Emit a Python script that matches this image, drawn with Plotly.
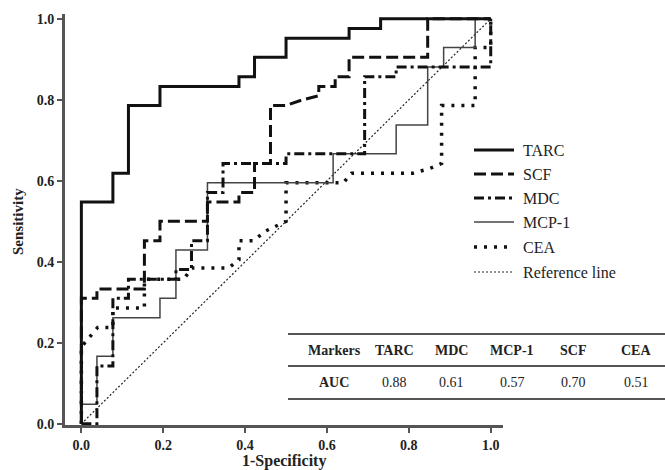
import plotly.graph_objects as go

# ---------------- data ----------------
tarc_x = [0, 0, 0.077, 0.077, 0.115, 0.115, 0.192, 0.192, 0.385, 0.385, 0.423, 0.423, 0.5, 0.5, 0.654, 0.654, 0.731, 0.731, 1.0]
tarc_y = [0, 0.548, 0.548, 0.619, 0.619, 0.786, 0.786, 0.833, 0.833, 0.857, 0.857, 0.905, 0.905, 0.952, 0.952, 0.976, 0.976, 1.0, 1.0]

scf_x = [0, 0, 0.038, 0.038, 0.154, 0.154, 0.192, 0.192, 0.308, 0.308, 0.385, 0.385, 0.423, 0.423, 0.462, 0.462,
         0.5, 0.54, 0.58, 0.58, 0.62, 0.62, 0.654, 0.654, 0.846, 0.846, 1.0]
scf_y = [0, 0.31, 0.31, 0.333, 0.333, 0.452, 0.452, 0.5, 0.5, 0.548, 0.548, 0.571, 0.571, 0.643, 0.643, 0.786,
         0.786, 0.80, 0.81, 0.833, 0.833, 0.857, 0.857, 0.905, 0.905, 1.0, 1.0]

mdc_x = [0, 0.038, 0.038, 0.077, 0.077, 0.115, 0.115, 0.231, 0.231, 0.269, 0.269, 0.308, 0.308, 0.346, 0.346,
         0.5, 0.5, 0.692, 0.692, 0.769, 0.769, 1.0, 1.0]
mdc_y = [0, 0, 0.143, 0.143, 0.31, 0.31, 0.357, 0.357, 0.381, 0.381, 0.452, 0.452, 0.571, 0.571, 0.643,
         0.643, 0.667, 0.667, 0.857, 0.857, 0.881, 0.881, 1.0]

mcp1_x = [0, 0, 0.038, 0.038, 0.077, 0.077, 0.192, 0.192, 0.231, 0.231, 0.308, 0.308, 0.615, 0.615, 0.769, 0.769,
          0.846, 0.846, 0.885, 0.885, 0.962, 0.962, 1.0]
mcp1_y = [0, 0.048, 0.048, 0.167, 0.167, 0.262, 0.262, 0.31, 0.31, 0.429, 0.429, 0.595, 0.595, 0.667, 0.667, 0.738,
          0.738, 0.881, 0.881, 0.929, 0.929, 1.0, 1.0]

cea_x = [0, 0, 0.02, 0.04, 0.077, 0.077, 0.154, 0.154, 0.25, 0.27, 0.36, 0.385, 0.385, 0.42, 0.45, 0.48, 0.5, 0.5,
         0.64, 0.66, 0.81, 0.85, 0.88, 0.88, 0.962, 0.962, 1.0, 1.0]
cea_y = [0, 0.19, 0.214, 0.238, 0.238, 0.286, 0.286, 0.357, 0.357, 0.385, 0.385, 0.405, 0.452, 0.452, 0.476, 0.49, 0.5, 0.595,
         0.595, 0.619, 0.619, 0.63, 0.643, 0.786, 0.786, 0.929, 0.929, 1.0]

ref_x = [0, 1]
ref_y = [0, 1]

legend_names = ["TARC", "SCF", "MDC", "MCP-1", "CEA", "Reference line"]
table_header = ["Markers", "TARC", "MDC", "MCP-1", "SCF", "CEA"]
table_values = ["AUC", 0.88, 0.61, 0.57, 0.70, 0.51]
tick_vals = [0, 0.2, 0.4, 0.6, 0.8, 1.0]
tick_text = ["0.0", "0.2", "0.4", "0.6", "0.8", "1.0"]

# ---------------- layout helpers ----------------
W, H = 665, 470
ML, MR, MT, MB = 65, 162, 14, 45
PW, PH = W - ML - MR, H - MT - MB


def px(x):
    return (x - ML) / PW


def py(y):
    return (H - MB - y) / PH


SERIF = "Liberation Serif, Times New Roman, serif"
styles = {
    "TARC": dict(color="#111111", width=3, dash="solid"),
    "SCF": dict(color="#111111", width=3, dash="12px,5px"),
    "MDC": dict(color="#111111", width=3, dash="10px,4px,3px,4px"),
    "MCP-1": dict(color="#444444", width=1.5, dash="solid"),
    "CEA": dict(color="#111111", width=3.5, dash="3px,7px"),
    "Reference line": dict(color="#222222", width=1.2, dash="2px,2px"),
}

fig = go.Figure()
series = [
    ("Reference line", ref_x, ref_y),
    ("CEA", cea_x, cea_y),
    ("MCP-1", mcp1_x, mcp1_y),
    ("MDC", mdc_x, mdc_y),
    ("SCF", scf_x, scf_y),
    ("TARC", tarc_x, tarc_y),
]
for name, xs, ys in series:
    fig.add_trace(go.Scatter(x=xs, y=ys, mode="lines", name=name, line=styles[name],
                             showlegend=False, hoverinfo="skip"))

shapes = []
annotations = []

# manual legend
leg_y = [150, 174, 198, 222, 247, 272]
for name, yy in zip(legend_names, leg_y):
    shapes.append(dict(type="line", xref="paper", yref="paper", x0=px(474), x1=px(514),
                       y0=py(yy), y1=py(yy), line=styles[name]))
    annotations.append(dict(text=name, xref="paper", yref="paper", x=px(521), y=py(yy),
                            xanchor="left", yanchor="middle", showarrow=False,
                            font=dict(family=SERIF, size=16, color="#222222")))

# AUC table
for yy in (334, 366, 399):
    shapes.append(dict(type="line", xref="paper", yref="paper", x0=px(288), x1=px(665),
                       y0=py(yy), y1=py(yy), line=dict(color="#555555", width=2)))
col_x = [334, 394, 451, 512, 573, 636]
for cx, h, v in zip(col_x, table_header, table_values):
    annotations.append(dict(text=h, xref="paper", yref="paper", x=px(cx), y=py(350),
                            xanchor="center", yanchor="middle", showarrow=False,
                            font=dict(family=SERIF, size=14, color="#222222", weight="bold")))
    vt = v if isinstance(v, str) else f"{v:.2f}"
    annotations.append(dict(text=vt, xref="paper", yref="paper", x=px(cx), y=py(382),
                            xanchor="center", yanchor="middle", showarrow=False,
                            font=dict(family=SERIF, size=14, color="#222222",
                                      weight="bold" if isinstance(v, str) else "normal")))

# axis titles
annotations.append(dict(text="Sensitivity", xref="paper", yref="paper", x=px(18), y=py(222),
                        textangle=-90, showarrow=False, xanchor="center", yanchor="middle",
                        font=dict(family=SERIF, size=15, color="#222222", weight="bold")))
annotations.append(dict(text="1-Specificity", xref="paper", yref="paper", x=px(284), y=py(461),
                        showarrow=False, xanchor="center", yanchor="middle",
                        font=dict(family=SERIF, size=16, color="#222222", weight="bold")))

axis_common = dict(showgrid=False, zeroline=False, showline=True, linewidth=3, linecolor="#555555",
                   ticks="outside", ticklen=5, tickwidth=2, tickcolor="#555555",
                   tickvals=tick_vals, ticktext=tick_text,
                   tickfont=dict(family=SERIF, size=14, color="#222222", weight="bold"))

fig.update_layout(
    width=W, height=H,
    margin=dict(l=ML, r=MR, t=MT, b=MB),
    paper_bgcolor="white", plot_bgcolor="white",
    xaxis=dict(range=[-0.04, 1.03], **axis_common),
    yaxis=dict(range=[-0.003, 1.012], **axis_common),
    shapes=shapes, annotations=annotations,
    showlegend=False,
)

fig.write_html("out.html", config={"displayModeBar": False},
               post_script="document.body.style.margin='0';document.body.style.overflow='hidden';")
